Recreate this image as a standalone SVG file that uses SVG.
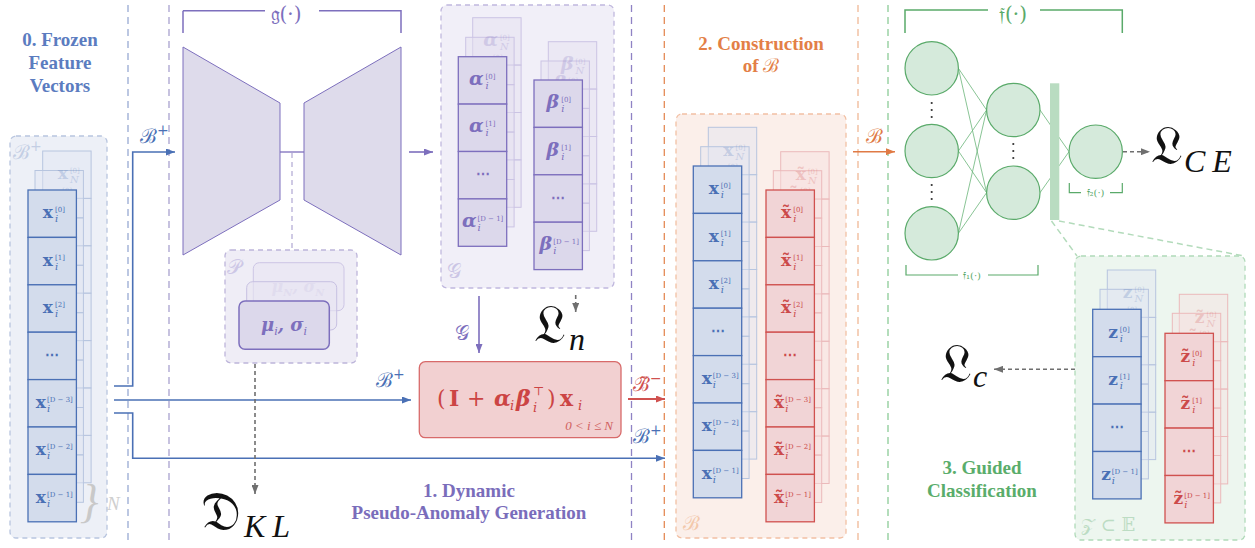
<svg xmlns="http://www.w3.org/2000/svg" xmlns:xlink="http://www.w3.org/1999/xlink" width="1255" height="548" viewBox="0 0 1255 548">
<defs>
<style>
.dv{fill:none;stroke-width:1.3;stroke-dasharray:7 5}
.ttl{font-family:"Liberation Serif","DejaVu Serif",serif;font-weight:bold;font-size:19px;text-anchor:middle}
.mx{font-family:"DejaVu Serif",serif;font-weight:bold;font-size:17px;text-anchor:end}
.ma{font-family:"DejaVu Serif",serif;font-weight:bold;font-style:italic;font-size:19px;text-anchor:end}
.si{font-family:"DejaVu Serif",serif;font-style:italic;font-size:10px}
.sp{font-family:"DejaVu Serif",serif;font-size:7px}
.el{font-family:"DejaVu Serif",serif;font-weight:bold;font-size:14px;text-anchor:middle}
.cal{font-family:"DejaVu Serif","Liberation Serif",serif;font-size:20px}
.big{font-family:"DejaVu Serif","Liberation Serif",serif;font-size:54px;fill:#111}
.bigi{font-family:"Liberation Serif","DejaVu Serif",serif;font-style:italic;font-size:32px;fill:#111}
.fb{fill:#d3dcec;stroke:#4a70b5;stroke-width:1.3}
.fr{fill:#f1d4d6;stroke:#d0514f;stroke-width:1.3}
.fp{fill:#dcd8eb;stroke:#7d6fbd;stroke-width:1.3}
.bkb{fill:#dfe5f1;fill-opacity:.45;stroke:#b7c5df;stroke-width:1}
.bkr{fill:#f6dfe0;fill-opacity:.45;stroke:#ebbabb;stroke-width:1}
.bkp{fill:#e4e1f0;fill-opacity:.45;stroke:#cbc4e4;stroke-width:1}
.tb{fill:#4a70b5}.tr{fill:#cc4a4a}.tp{fill:#7d6fbd}
.faint{opacity:.22}
.gd{fill:none;stroke:#6f6f6f;stroke-width:1.6;stroke-dasharray:4 3}
.nl{stroke:#6bb57a;stroke-width:.8}
.nc{fill:#d5eadb;stroke:#5aaa6a;stroke-width:1.2}
</style>
<marker id="ab" viewBox="0 0 9 7" markerWidth="9" markerHeight="7" refX="9" refY="3.5" orient="auto" markerUnits="userSpaceOnUse"><path d="M0,0L9,3.5L0,7z" fill="#4a70b5"/></marker>
<marker id="ap" viewBox="0 0 9 7" markerWidth="9" markerHeight="7" refX="9" refY="3.5" orient="auto" markerUnits="userSpaceOnUse"><path d="M0,0L9,3.5L0,7z" fill="#7d6fbd"/></marker>
<marker id="ar" viewBox="0 0 9 7" markerWidth="9" markerHeight="7" refX="9" refY="3.5" orient="auto" markerUnits="userSpaceOnUse"><path d="M0,0L9,3.5L0,7z" fill="#d0514f"/></marker>
<marker id="ao" viewBox="0 0 9 7" markerWidth="9" markerHeight="7" refX="9" refY="3.5" orient="auto" markerUnits="userSpaceOnUse"><path d="M0,0L9,3.5L0,7z" fill="#e07a45"/></marker>
<marker id="ag" viewBox="0 0 9 7" markerWidth="9" markerHeight="7" refX="9" refY="3.5" orient="auto" markerUnits="userSpaceOnUse"><path d="M0,0L9,3.5L0,7z" fill="#6f6f6f"/></marker>
<g id="c7"><rect x="0" y="0" width="48.4" height="47.4"/><rect x="0" y="47.4" width="48.4" height="47.4"/><rect x="0" y="94.8" width="48.4" height="47.4"/><rect x="0" y="142.2" width="48.4" height="47.4"/><rect x="0" y="189.6" width="48.4" height="47.4"/><rect x="0" y="237" width="48.4" height="47.4"/><rect x="0" y="284.4" width="48.4" height="47.4"/></g>
<g id="c4"><rect x="0" y="0" width="48.4" height="47.4"/><rect x="0" y="47.4" width="48.4" height="47.4"/><rect x="0" y="94.8" width="48.4" height="47.4"/><rect x="0" y="142.2" width="48.4" height="47.4"/></g>
</defs>
<rect width="1255" height="548" fill="#fff"/>

<g id="separators">
<line x1="128" y1="5" x2="128" y2="541" class="dv" stroke="#98aad3"/>
<line x1="169" y1="5" x2="169" y2="541" class="dv" stroke="#a9a2cf"/>
<line x1="631.5" y1="5" x2="631.5" y2="541" class="dv" stroke="#8f83c4"/>
<line x1="664.3" y1="5" x2="664.3" y2="541" class="dv" stroke="#e48a55"/>
<line x1="858" y1="5" x2="858" y2="541" class="dv" stroke="#f0b896"/>
<line x1="888" y1="5" x2="888" y2="541" class="dv" stroke="#8ccb97"/>
</g>

<g id="titles">
<text class="ttl" x="60" y="45.5" fill="#5b7cc0">0. Frozen</text>
<text class="ttl" x="60" y="68.5" fill="#5b7cc0">Feature</text>
<text class="ttl" x="60" y="91.5" fill="#5b7cc0">Vectors</text>
<text class="ttl" x="469" y="497" fill="#7a6dbb">1. Dynamic</text>
<text class="ttl" x="469" y="519" fill="#7a6dbb">Pseudo-Anomaly Generation</text>
<text class="ttl" x="761" y="50" fill="#e37f47">2. Construction</text>
<text class="ttl" x="761" y="72" fill="#e37f47">of <tspan font-family="DejaVu Serif" font-weight="normal">ℬ</tspan></text>
<text class="ttl" x="982" y="473.5" fill="#5aad6b">3. Guided</text>
<text class="ttl" x="982" y="497" fill="#5aad6b">Classification</text>
</g>

<g id="frozen-features">
<rect x="10" y="136" width="97" height="402" rx="6" fill="#edf0f7" stroke="#b8c5df" stroke-width="1.3" stroke-dasharray="5 4"/>
<text class="cal" x="13" y="159" fill="#c3cee4">ℬ<tspan dy="-8" font-size="14">+</tspan></text>
<use xlink:href="#c7" x="42.7" y="151" class="bkb"/>
<use xlink:href="#c7" x="35" y="170.5" class="bkb"/>
<g class="tb faint"><text class="mx" x="67.9" y="179.2">x</text><text class="sp" x="69.9" y="173.2">[0]</text><text class="si" x="69.9" y="183.2">N</text></g>
<g class="tb faint"><text class="mx" x="60.2" y="198.7">x</text><text class="sp" x="62.2" y="192.7">[0]</text></g>
<use xlink:href="#c7" x="28" y="190" class="fb"/>
<g class="tb">
<text class="mx" x="53" y="218.2">x</text><text class="sp" x="55" y="212.2">[0]</text><text class="si" x="55" y="222.2">i</text>
<text class="mx" x="53" y="265.6">x</text><text class="sp" x="55" y="259.6">[1]</text><text class="si" x="55" y="269.6">i</text>
<text class="mx" x="53" y="313">x</text><text class="sp" x="55" y="307">[2]</text><text class="si" x="55" y="317">i</text>
<text class="el" x="52" y="359.9">⋯</text>
<text class="mx" x="46" y="407.8">x</text><text class="sp" x="47" y="401.8">[D − 3]</text><text class="si" x="47" y="411.8">i</text>
<text class="mx" x="46" y="455.2">x</text><text class="sp" x="47" y="449.2">[D − 2]</text><text class="si" x="47" y="459.2">i</text>
<text class="mx" x="46" y="502.6">x</text><text class="sp" x="47" y="496.6">[D − 1]</text><text class="si" x="47" y="506.6">i</text>
</g>
<text x="80" y="517" font-family="Liberation Serif" font-size="46" font-style="italic" fill="#c9c9c9">}</text>
<text x="107" y="510" font-family="Liberation Serif" font-size="19" font-style="italic" fill="#cfcfcf">N</text>
</g>

<g id="autoencoder">
<path d="M183,10.7V33M183,10.7H265M319,10.7H401V33" fill="none" stroke="#7d6fbd" stroke-width="1.5"/>
<text x="286" y="21" font-family="DejaVu Serif" font-size="20" fill="#7d6fbd" text-anchor="middle">𝔤(·)</text>
<polygon points="183,47 280,103 280,200 183,255" fill="#dedbeb" stroke="#7d6fbd" stroke-width="1"/>
<polygon points="304,103 401,47 401,255 304,200" fill="#dedbeb" stroke="#7d6fbd" stroke-width="1"/>
<line x1="280" y1="152" x2="304" y2="152" stroke="#7d6fbd" stroke-width="1.3"/>
</g>

<g id="params-P">
<rect x="225" y="250" width="132" height="113" rx="6" fill="#efedf6" stroke="#bdb5da" stroke-width="1.3" stroke-dasharray="5 4"/>
<text class="cal" x="227" y="274" fill="#cdc7e6" font-size="18">𝒫</text>
<rect x="253.3" y="262.7" width="90.7" height="48" rx="6" fill="#e7e4f2" fill-opacity=".5" stroke="#cdc6e5"/>
<text x="298" y="292" font-family="DejaVu Serif" font-weight="bold" font-style="italic" font-size="16" fill="#7d6fbd" opacity=".2" text-anchor="middle">μ<tspan font-size="10" dy="4">N</tspan><tspan dy="-4">, σ</tspan><tspan font-size="10" dy="4">N</tspan></text>
<rect x="246.7" y="281.7" width="90" height="48.3" rx="6" fill="#e7e4f2" fill-opacity=".6" stroke="#c7c0e2"/>
<rect x="239" y="301" width="90.3" height="48.3" rx="6" fill="#dcd8eb" stroke="#7d6fbd" stroke-width="1.5"/>
<text x="284" y="331" font-family="DejaVu Serif" font-weight="bold" font-style="italic" font-size="18" fill="#7d6fbd" text-anchor="middle">μ<tspan font-size="11" dy="4" font-weight="normal">i</tspan><tspan dy="-4">, σ</tspan><tspan font-size="11" dy="4" font-weight="normal">i</tspan></text>
</g>

<g id="params-G">
<rect x="441" y="5" width="173" height="283" rx="6" fill="#f1eff8" stroke="#c0b8de" stroke-width="1.3" stroke-dasharray="5 4"/>
<text class="cal" x="447" y="278" fill="#cbc5e5">𝒢</text>
<use xlink:href="#c4" x="472.7" y="17.7" class="bkp"/>
<use xlink:href="#c4" x="465.7" y="37.3" class="bkp"/>
<g class="tp faint"><text class="ma" x="497.9" y="45.9">α</text><text class="sp" x="499.9" y="39.9">[0]</text><text class="si" x="499.9" y="49.9">N</text></g>
<g class="tp faint"><text class="ma" x="490.9" y="65.5">α</text><text class="sp" x="492.9" y="59.5">[0]</text></g>
<use xlink:href="#c4" x="458.3" y="56.7" class="fp"/>
<g class="tp">
<text class="ma" x="483.5" y="84.9">α</text><text class="sp" x="485.5" y="78.9">[0]</text><text class="si" x="485.5" y="88.9">i</text>
<text class="ma" x="483.5" y="132.3">α</text><text class="sp" x="485.5" y="126.3">[1]</text><text class="si" x="485.5" y="136.3">i</text>
<text class="el" x="482.5" y="179.2">⋯</text>
<text class="ma" x="476.5" y="227.1">α</text><text class="sp" x="477.5" y="221.1">[D − 1]</text><text class="si" x="477.5" y="231.1">i</text>
</g>
<use xlink:href="#c4" x="548.3" y="41.7" class="bkp"/>
<use xlink:href="#c4" x="541" y="61" class="bkp"/>
<g class="tp faint"><text class="ma" x="573.5" y="69.9">β</text><text class="sp" x="575.5" y="63.9">[0]</text><text class="si" x="575.5" y="73.9">N</text></g>
<g class="tp faint"><text class="ma" x="566.2" y="89.2">β</text><text class="sp" x="568.2" y="83.2">[0]</text></g>
<use xlink:href="#c4" x="534" y="80" class="fp"/>
<g class="tp">
<text class="ma" x="559.2" y="108.2">β</text><text class="sp" x="561.2" y="102.2">[0]</text><text class="si" x="561.2" y="112.2">i</text>
<text class="ma" x="559.2" y="155.6">β</text><text class="sp" x="561.2" y="149.6">[1]</text><text class="si" x="561.2" y="159.6">i</text>
<text class="el" x="558.2" y="202.5">⋯</text>
<text class="ma" x="552.2" y="250.4">β</text><text class="sp" x="553.2" y="244.4">[D − 1]</text><text class="si" x="553.2" y="254.4">i</text>
</g>
</g>

<g id="transform">
<rect x="419.3" y="361.7" width="201.7" height="76" rx="6" fill="#f2d0d1" stroke="#d86a6a" stroke-width="1.3"/>
<text font-family="DejaVu Serif" font-size="22" fill="#cc4444" y="405.7"><tspan x="437">(</tspan><tspan x="449" font-weight="bold">I</tspan><tspan x="467">+</tspan><tspan x="494" font-weight="bold" font-style="italic">α</tspan><tspan x="510" y="410" font-size="13" font-style="italic">i</tspan><tspan x="516" y="405.7" font-weight="bold" font-style="italic">β</tspan><tspan x="533" y="395" font-size="12">⊤</tspan><tspan x="533" y="412" font-size="13" font-style="italic">i</tspan><tspan x="547" y="405.7">)</tspan><tspan x="560" font-weight="bold">x</tspan><tspan x="578" y="410" font-size="13" font-style="italic">i</tspan></text>
<text x="613" y="430" font-family="Liberation Serif" font-style="italic" font-size="13" fill="#d06060" text-anchor="end">0 &lt; i ≤ N</text>
</g>

<g id="construction-B">
<rect x="676" y="114" width="170" height="424" rx="6" fill="#fbefea" stroke="#f2c0a4" stroke-width="1.3" stroke-dasharray="5 4"/>
<text class="cal" x="683" y="530" fill="#f3c8aa">ℬ</text>
<use xlink:href="#c7" x="708.3" y="127.3" class="bkb"/>
<use xlink:href="#c7" x="700.7" y="146.7" class="bkb"/>
<g class="tb faint"><text class="mx" x="733.5" y="155.5">x</text><text class="sp" x="735.5" y="149.5">[0]</text><text class="si" x="735.5" y="159.5">N</text></g>
<g class="tb faint"><text class="mx" x="725.9" y="174.9">x</text><text class="sp" x="727.9" y="168.9">[0]</text></g>
<use xlink:href="#c7" x="693.3" y="166" class="fb"/>
<g class="tb">
<text class="mx" x="718.8" y="194.2">x</text><text class="sp" x="720.8" y="188.2">[0]</text><text class="si" x="720.8" y="198.2">i</text>
<text class="mx" x="718.8" y="241.6">x</text><text class="sp" x="720.8" y="235.6">[1]</text><text class="si" x="720.8" y="245.6">i</text>
<text class="mx" x="718.8" y="289">x</text><text class="sp" x="720.8" y="283">[2]</text><text class="si" x="720.8" y="293">i</text>
<text class="el" x="717.8" y="335.9">⋯</text>
<text class="mx" x="711.8" y="383.8">x</text><text class="sp" x="712.8" y="377.8">[D − 3]</text><text class="si" x="712.8" y="387.8">i</text>
<text class="mx" x="711.8" y="431.2">x</text><text class="sp" x="712.8" y="425.2">[D − 2]</text><text class="si" x="712.8" y="435.2">i</text>
<text class="mx" x="711.8" y="478.6">x</text><text class="sp" x="712.8" y="472.6">[D − 1]</text><text class="si" x="712.8" y="482.6">i</text>
</g>
<use xlink:href="#c7" x="780.7" y="151.7" class="bkr"/>
<use xlink:href="#c7" x="773.3" y="170.7" class="bkr"/>
<g class="tr faint"><text class="mx" x="805.9" y="179.9">x̃</text><text class="sp" x="807.9" y="173.9">[0]</text><text class="si" x="807.9" y="183.9">N</text></g>
<g class="tr faint"><text class="mx" x="798.5" y="198.9">x̃</text><text class="sp" x="800.5" y="192.9">[0]</text></g>
<use xlink:href="#c7" x="766" y="190" class="fr"/>
<g class="tr">
<text class="mx" x="791.2" y="218.2">x̃</text><text class="sp" x="793.2" y="212.2">[0]</text><text class="si" x="793.2" y="222.2">i</text>
<text class="mx" x="791.2" y="265.6">x̃</text><text class="sp" x="793.2" y="259.6">[1]</text><text class="si" x="793.2" y="269.6">i</text>
<text class="mx" x="791.2" y="313">x̃</text><text class="sp" x="793.2" y="307">[2]</text><text class="si" x="793.2" y="317">i</text>
<text class="el" x="790.2" y="359.9">⋯</text>
<text class="mx" x="784.2" y="407.8">x̃</text><text class="sp" x="785.2" y="401.8">[D − 3]</text><text class="si" x="785.2" y="411.8">i</text>
<text class="mx" x="784.2" y="455.2">x̃</text><text class="sp" x="785.2" y="449.2">[D − 2]</text><text class="si" x="785.2" y="459.2">i</text>
<text class="mx" x="784.2" y="502.6">x̃</text><text class="sp" x="785.2" y="496.6">[D − 1]</text><text class="si" x="785.2" y="506.6">i</text>
</g>
</g>

<g id="network-f">
<path d="M905,33V10H988M1040,10H1122.3V33" fill="none" stroke="#5aaa6a" stroke-width="1.5"/>
<text x="1013" y="21" font-family="DejaVu Serif" font-size="20" fill="#5aaa6a" text-anchor="middle">𝔣(·)</text>
<g class="nl">
<line x1="958.4" y1="68.3" x2="986.6" y2="110"/><line x1="958.4" y1="68.3" x2="986.6" y2="192.7"/>
<line x1="958.4" y1="151" x2="986.6" y2="110"/><line x1="958.4" y1="151" x2="986.6" y2="192.7"/>
<line x1="958.4" y1="233.3" x2="986.6" y2="110"/><line x1="958.4" y1="233.3" x2="986.6" y2="192.7"/>
<line x1="1040" y1="110" x2="1069" y2="151.7"/><line x1="1040" y1="192.7" x2="1069" y2="151.7"/>
</g>
<rect x="1050" y="83.3" width="9.3" height="136.7" fill="#b9dcc1"/>
<circle cx="931.7" cy="68.3" r="26.7" class="nc"/>
<circle cx="931.7" cy="151" r="26.7" class="nc"/>
<circle cx="931.7" cy="233.3" r="26.7" class="nc"/>
<circle cx="1013.3" cy="110" r="26.7" class="nc"/>
<circle cx="1013.3" cy="192.7" r="26.7" class="nc"/>
<circle cx="1095.7" cy="151.7" r="26.7" class="nc"/>
<g fill="#333"><circle cx="931.7" cy="103" r="1.1"/><circle cx="931.7" cy="110" r="1.1"/><circle cx="931.7" cy="117" r="1.1"/><circle cx="931.7" cy="185" r="1.1"/><circle cx="931.7" cy="192" r="1.1"/><circle cx="931.7" cy="199" r="1.1"/><circle cx="1013.3" cy="144" r="1.1"/><circle cx="1013.3" cy="151" r="1.1"/><circle cx="1013.3" cy="158" r="1.1"/></g>
<path d="M1069.3,183V192.7H1081M1110,192.7H1122.3V183" fill="none" stroke="#5aaa6a" stroke-width="1.2"/>
<text x="1095.5" y="196" font-family="DejaVu Serif" font-size="10" fill="#5aaa6a" text-anchor="middle">𝔣₂(·)</text>
<path d="M906,265V275H958M988,275H1038V265" fill="none" stroke="#5aaa6a" stroke-width="1.2"/>
<text x="972" y="279" font-family="DejaVu Serif" font-size="10" fill="#5aaa6a" text-anchor="middle">𝔣₁(·)</text>
<path d="M1051.5,221L1077,256M1059,221L1244,256" fill="none" stroke="#b3dbbb" stroke-width="1.5" stroke-dasharray="6 4"/>
</g>

<g id="embedding-Z">
<rect x="1075" y="256" width="170" height="284" rx="6" fill="#edf6ef" stroke="#b0dab9" stroke-width="1.3" stroke-dasharray="5 4"/>
<text x="1081" y="531" font-family="DejaVu Serif" font-size="18" fill="#bcdcc3">𝒵 ⊂ 𝔼</text>
<use xlink:href="#c4" x="1107.3" y="270" class="bkb"/>
<use xlink:href="#c4" x="1100" y="289.3" class="bkb"/>
<g class="tb faint"><text class="mx" x="1132.5" y="298.2">z</text><text class="sp" x="1134.5" y="292.2">[0]</text><text class="si" x="1134.5" y="302.2">N</text></g>
<g class="tb faint"><text class="mx" x="1125.2" y="317.5">z</text><text class="sp" x="1127.2" y="311.5">[0]</text></g>
<use xlink:href="#c4" x="1092.7" y="309.3" class="fb"/>
<g class="tb">
<text class="mx" x="1117.8" y="337.5">z</text><text class="sp" x="1119.8" y="331.5">[0]</text><text class="si" x="1119.8" y="341.5">i</text>
<text class="mx" x="1117.8" y="384.9">z</text><text class="sp" x="1119.8" y="378.9">[1]</text><text class="si" x="1119.8" y="388.9">i</text>
<text class="el" x="1116.8" y="431.8">⋯</text>
<text class="mx" x="1110.8" y="479.7">z</text><text class="sp" x="1111.8" y="473.7">[D − 1]</text><text class="si" x="1111.8" y="483.7">i</text>
</g>
<use xlink:href="#c4" x="1179.3" y="294.3" class="bkr"/>
<use xlink:href="#c4" x="1172.3" y="313.3" class="bkr"/>
<g class="tr faint"><text class="mx" x="1204.5" y="322.5">z̃</text><text class="sp" x="1206.5" y="316.5">[0]</text><text class="si" x="1206.5" y="326.5">N</text></g>
<g class="tr faint"><text class="mx" x="1197.5" y="341.5">z̃</text><text class="sp" x="1199.5" y="335.5">[0]</text></g>
<use xlink:href="#c4" x="1165" y="333.3" class="fr"/>
<g class="tr">
<text class="mx" x="1190.2" y="361.5">z̃</text><text class="sp" x="1192.2" y="355.5">[0]</text><text class="si" x="1192.2" y="365.5">i</text>
<text class="mx" x="1190.2" y="408.9">z̃</text><text class="sp" x="1192.2" y="402.9">[1]</text><text class="si" x="1192.2" y="412.9">i</text>
<text class="el" x="1189.2" y="455.8">⋯</text>
<text class="mx" x="1183.2" y="503.7">z̃</text><text class="sp" x="1184.2" y="497.7">[D − 1]</text><text class="si" x="1184.2" y="507.7">i</text>
</g>
</g>

<g id="losses">
<text class="big" x="534" y="343">𝔏</text><text class="bigi" x="569" y="350">n</text>
<text class="big" x="201" y="530">𝔇</text><text class="bigi" x="244" y="536.7" font-size="35" letter-spacing="7">KL</text>
<text class="big" x="1151" y="164">𝔏</text><text class="bigi" x="1184" y="171.7" font-size="34" letter-spacing="7">CE</text>
<text class="big" x="940" y="382">𝔏</text><text class="bigi" x="973" y="387" font-size="30">c</text>
</g>

<g id="connectors">
<path d="M114,386H132.7V152H175" fill="none" stroke="#4a70b5" stroke-width="1.6" marker-end="url(#ab)"/>
<path d="M114,400H411" fill="none" stroke="#4a70b5" stroke-width="1.6" marker-end="url(#ab)"/>
<path d="M114,413H132.7V458.3H665" fill="none" stroke="#4a70b5" stroke-width="1.6" marker-end="url(#ab)"/>
<path d="M628,399H665" fill="none" stroke="#d0514f" stroke-width="1.8" marker-end="url(#ar)"/>
<path d="M409,152H433" fill="none" stroke="#7d6fbd" stroke-width="1.6" marker-end="url(#ap)"/>
<path d="M479,296V353" fill="none" stroke="#7d6fbd" stroke-width="1.6" marker-end="url(#ap)"/>
<path d="M853,151.7H895" fill="none" stroke="#e07a45" stroke-width="1.6" marker-end="url(#ao)"/>
<path d="M292,153V250" fill="none" stroke="#c0b9dc" stroke-width="1.5" stroke-dasharray="5 4"/>
<path d="M255,364V494" class="gd" marker-end="url(#ag)"/>
<path d="M575.7,295V312" class="gd" marker-end="url(#ag)"/>
<path d="M1123,151.7H1150" class="gd" marker-end="url(#ag)"/>
<path d="M1075,369.3H994" class="gd" marker-end="url(#ag)"/>
<text class="cal" x="140" y="143" fill="#4a70b5">ℬ<tspan dy="-8" font-size="14">+</tspan></text>
<text class="cal" x="376" y="387" fill="#4a70b5">ℬ<tspan dy="-8" font-size="14">+</tspan></text>
<text class="cal" x="633" y="443" fill="#4a70b5">ℬ<tspan dy="-8" font-size="14">+</tspan></text>
<text class="cal" x="633" y="391" fill="#d0514f" font-size="18">ℬ̃<tspan dy="-8" font-size="14">−</tspan></text>
<text class="cal" x="455" y="340" fill="#7d6fbd">𝒢</text>
<text class="cal" x="866" y="143" fill="#e07a45">ℬ</text>
</g>
</svg>
